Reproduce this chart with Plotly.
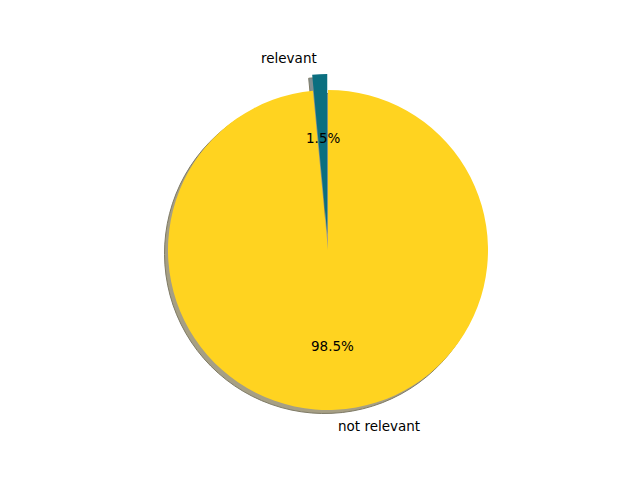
import math
import plotly.graph_objects as go

labels = ["relevant", "not relevant"]
values = [1.5, 98.5]
pulls = [0.1, 0.0]
colors = ["#0B6F80", "#FFD320"]
shadow_colors = ["#819093", "#A69F84"]

W, H = 640, 480
# page body margin of 8px shifts the figure; compensate
cx, cy, R = 320, 242, 160  # pixel centre and radius within the figure
maxpull = max(pulls)
half = R * (1 + maxpull)

def dom(dx, dy):
    x0 = (cx + dx - half) / W
    x1 = (cx + dx + half) / W
    y0 = (H - (cy + dy) - half) / H
    y1 = (H - (cy + dy) + half) / H
    return dict(x=[x0, x1], y=[y0, y1])

fig = go.Figure()
fig.add_trace(go.Pie(
    labels=labels, values=values, pull=pulls, sort=False,
    direction="clockwise", rotation=-360 * values[0] / sum(values),
    marker=dict(colors=shadow_colors, line=dict(color="#7E7A66", width=1)),
    textinfo="none", hoverinfo="skip", showlegend=False,
    domain=dom(-3.5, 3.5),
))
fig.add_trace(go.Pie(
    labels=labels, values=values, pull=pulls, sort=False,
    direction="clockwise", rotation=-360 * values[0] / sum(values),
    marker=dict(colors=colors, line=dict(width=0)),
    textinfo="none", showlegend=False,
    domain=dom(0, 0),
))

total = sum(values)
start = 90.0
for lab, v, p in zip(labels, values, pulls):
    span = v / total * 360.0
    mid = math.radians(start + span / 2)
    start += span
    ox = p * R * math.cos(mid)
    oy = p * R * math.sin(mid)
    lx = cx + ox + 1.1 * R * math.cos(mid)
    ly = cy - (oy + 1.1 * R * math.sin(mid))
    fig.add_annotation(x=lx / W, y=1 - ly / H, xref="paper", yref="paper",
                       text=lab, showarrow=False,
                       xanchor="right" if math.cos(mid) < 0 else "left",
                       yanchor="middle",
                       font=dict(family="DejaVu Sans", size=13.5, color="black"))
    px = cx + ox + 0.6 * R * math.cos(mid)
    py = cy - (oy + 0.6 * R * math.sin(mid))
    fig.add_annotation(x=px / W, y=1 - py / H, xref="paper", yref="paper",
                       text=f"{v / total * 100:.1f}%", showarrow=False,
                       xanchor="center", yanchor="middle",
                       font=dict(family="DejaVu Sans", size=13.5, color="black"))

fig.update_layout(width=W, height=H, margin=dict(l=0, r=0, t=0, b=0),
                  paper_bgcolor="white", plot_bgcolor="white")
fig.write_html("out.html")
